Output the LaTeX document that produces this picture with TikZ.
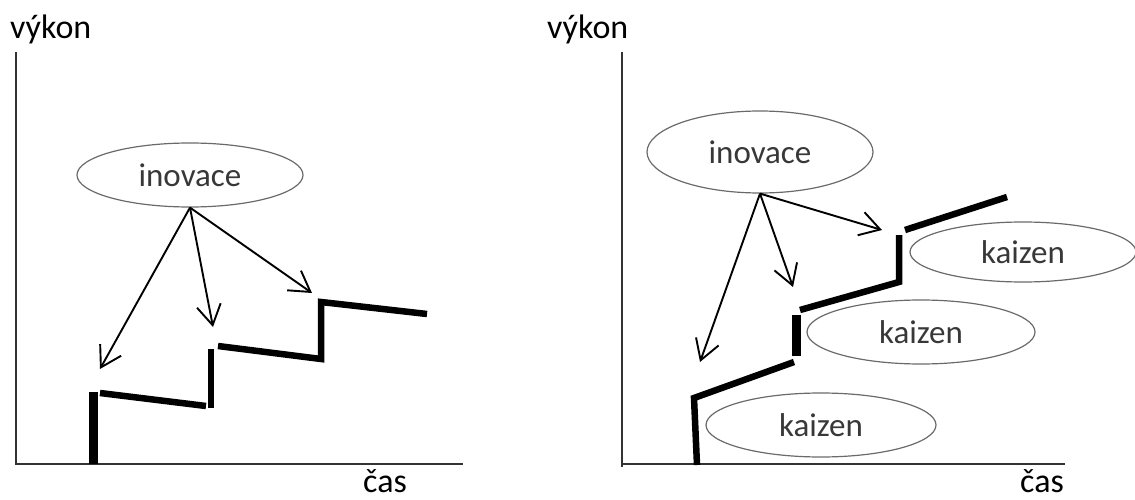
\documentclass[tikz,border=0pt]{standalone}
\usepackage{fontspec}
\setmainfont{Carlito}
\usetikzlibrary{shapes.geometric,arrows.meta}
\definecolor{inkgray}{HTML}{383838}
\definecolor{rimgray}{HTML}{6A6A6A}
\tikzset{
  axislbl/.style={inner sep=0pt, font=\fontsize{34}{36}\selectfont, text=black},
  bubble/.style={ellipse, draw=rimgray, line width=1.2pt, inner sep=0pt,
    font=\fontsize{33}{36}\selectfont, text=inkgray},
  axisline/.style={line width=2.2pt, draw=black!80},
  pointer/.style={line width=1.9pt, -{Straight Barb[length=20pt,width=24pt,line width=1.9pt]}},
  stair/.style={line width=6.5pt, line cap=butt, line join=miter},
  riser/.style={line width=9pt, line cap=butt},
}
\begin{document}
\begin{tikzpicture}[x=1pt, y=-1pt]
\useasboundingbox (0,0) rectangle (1135,500);

% ---------- left panel: innovation only ----------
\coordinate (oL) at (16,464);
\coordinate (tL) at (16,52);
\coordinate (eL) at (463,464);
\draw[axisline] (tL) -- (16,465) (oL) -- (eL);
\node[axislbl, anchor=base west] (vykonL) at (10,39) {výkon};
\node[axislbl, anchor=base west] (casL) at (363,492) {čas};

\node[bubble, minimum width=226pt, minimum height=64pt] (inovL) at (190,175) {inovace};

\coordinate (a1) at (100,369);
\coordinate (a2) at (213,327);
\coordinate (a3) at (312,293);
\draw[pointer] (inovL.south) -- (a1);
\draw[pointer] (inovL.south) -- (a2);
\draw[pointer] (inovL.south) -- (a3);

\draw[riser] (93,464) -- (93,392);
\draw[stair] (100,393) -- (206,406);
\draw[stair, line width=5.5pt] (211,408) -- (211,349);
\draw[stair] (218,346) -- (321,359) -- (321,302) -- (427,314);

% ---------- right panel: innovation plus kaizen ----------
\coordinate (oR) at (622,464);
\coordinate (tR) at (622,52);
\coordinate (eR) at (1065,464);
\draw[axisline] (tR) -- (622,467) (oR) -- (eR);
\node[axislbl, anchor=base west] (vykonR) at (547,39) {výkon};
\node[axislbl, anchor=base west] (casR) at (1020,492) {čas};

\node[bubble, minimum width=226pt, minimum height=82pt] (inovR) at (760,152) {inovace};

\node[bubble, minimum width=230pt, minimum height=64pt] (kaiA) at (821,425) {kaizen};
\node[bubble, minimum width=228pt, minimum height=64pt] (kaiB) at (921,332) {kaizen};
\node[bubble, minimum width=226pt, minimum height=60pt] (kaiC) at (1023,252) {kaizen};

\coordinate (b1) at (700,362);
\coordinate (b2) at (793,287);
\coordinate (b3) at (882,230);
\draw[pointer] (inovR.south) -- (b1);
\draw[pointer] (inovR.south) -- (b2);
\draw[pointer] (inovR.south) -- (b3);

\draw[stair] (697,465) -- (694,398) -- (794,362);
\draw[riser] (796,356) -- (796,315);
\draw[stair] (800,310) -- (899,282) -- (899,235);
\draw[stair] (905,230) -- (1007,197);
\end{tikzpicture}
\end{document}
